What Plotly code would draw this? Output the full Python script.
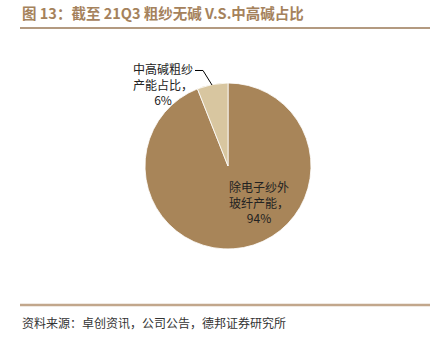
import plotly.graph_objects as go

labels = ["除电子纱外玻纤产能", "中高碱粗纱产能占比"]
values = [94, 6]
colors = ["#a88559", "#d8c6a0"]

W, H = 435, 347

def px(x):
    return x / W

def py(y):
    return 1 - y / H

fig = go.Figure()
fig.add_trace(go.Pie(
    labels=labels, values=values, sort=False, direction="clockwise",
    rotation=0, marker=dict(colors=colors, line=dict(color="white", width=0.8)),
    textinfo="none", hoverinfo="label+percent", showlegend=False,
    domain=dict(x=[px(145), px(311)], y=[py(249), py(83)]),
))

font_cjk = "Noto Sans CJK SC, Noto Sans, sans-serif"

annotations = [
    dict(x=px(20), y=py(13), xref="paper", yref="paper", xanchor="left", yanchor="middle",
         text="<b>图 13：截至 21Q3 粗纱无碱 V.S.中高碱占比</b>", showarrow=False,
         font=dict(family=font_cjk, size=14.5, color="#a5825c")),
    dict(x=px(20), y=py(322), xref="paper", yref="paper", xanchor="left", yanchor="middle",
         text="资料来源：卓创资讯，公司公告，德邦证券研究所", showarrow=False,
         font=dict(family=font_cjk, size=12, color="#333333")),
    dict(x=px(163), y=py(84), xref="paper", yref="paper", xanchor="center", yanchor="middle",
         text="中高碱粗纱<br>产能占比，<br>%d%%" % values[1], showarrow=False, align="center",
         font=dict(family=font_cjk, size=12, color="#222222")),
    dict(x=px(259), y=py(202), xref="paper", yref="paper", xanchor="center", yanchor="middle",
         text="除电子纱外<br>玻纤产能，<br>%d%%" % values[0], showarrow=False, align="center",
         font=dict(family=font_cjk, size=12, color="#222222")),
]

shapes = [
    dict(type="line", xref="paper", yref="paper", x0=px(20), x1=px(430), y0=py(28), y1=py(28),
         line=dict(color="#b39a80", width=2)),
    dict(type="line", xref="paper", yref="paper", x0=px(20), x1=px(430), y0=py(305), y1=py(305),
         line=dict(color="#c2a78c", width=2.5)),
    dict(type="path", xref="paper", yref="paper",
         path="M %f,%f L %f,%f L %f,%f" % (px(195), py(70.5), px(203), py(70.5), px(212), py(85)),
         line=dict(color="#000000", width=1)),
]

fig.update_layout(
    width=W, height=H, margin=dict(l=0, r=0, t=0, b=0),
    paper_bgcolor="white", plot_bgcolor="white",
    annotations=annotations, shapes=shapes,
)

fig.write_html("out.html")
